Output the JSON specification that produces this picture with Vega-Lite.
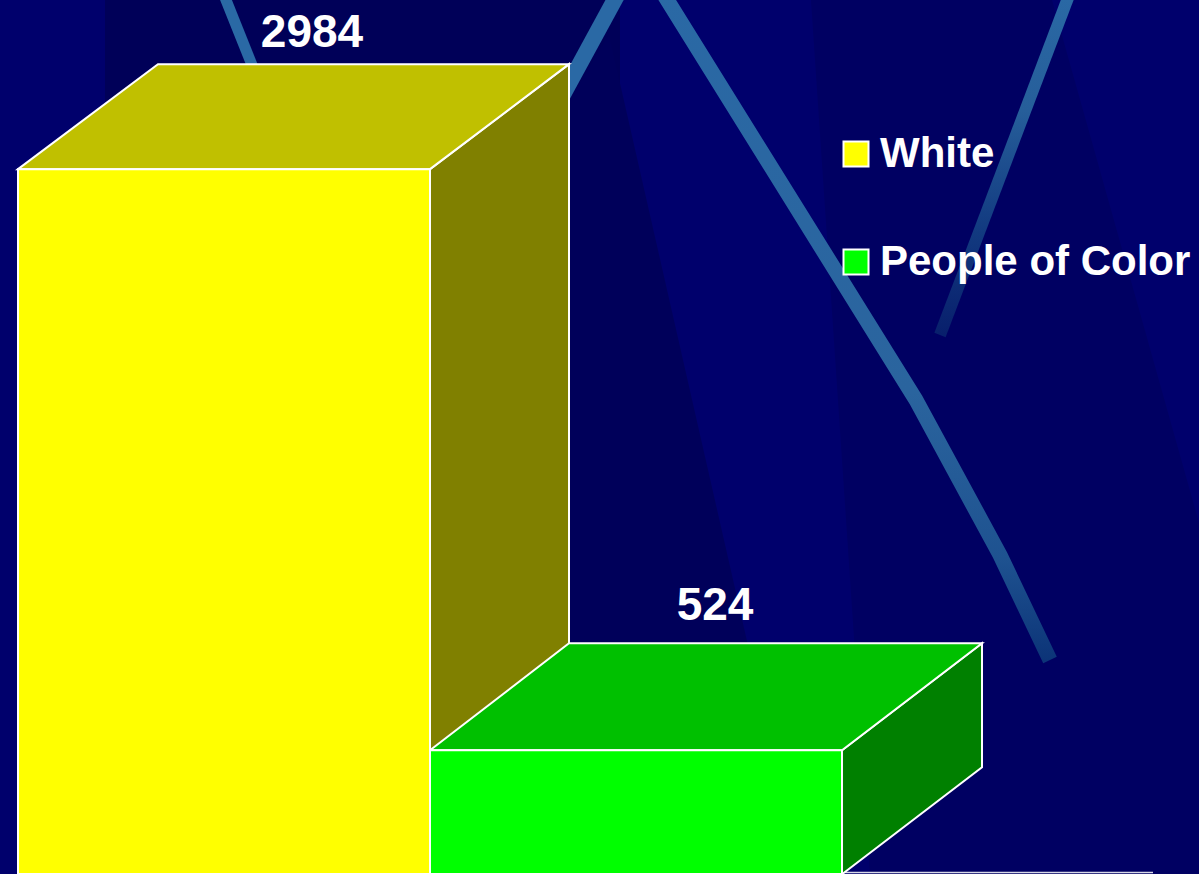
{
"$schema":"https://vega.github.io/schema/vega-lite/v6.json",
"width":1199,"height":874,"padding":0,"autosize":{"type":"none"},
"background":"#00006c",
"view":{"stroke":null},
"datasets":{
"bars":[{"group":"White","count":2984},{"group":"People of Color","count":524}],
"wedges":[
{"wedge":"a","px":105,"top":0,"bot":120},{"wedge":"a","px":620,"top":0,"bot":120},
{"wedge":"b","px":569,"top":100,"bot":874},{"wedge":"b","px":609,"top":35,"bot":874},{"wedge":"b","px":800,"top":874,"bot":874},
{"wedge":"c","px":811,"top":0,"bot":0},{"wedge":"c","px":870,"top":0,"bot":874},{"wedge":"c","px":1052,"top":0,"bot":874},{"wedge":"c","px":1199,"top":523,"bot":874}
],
"stripeA":[{"px":222,"py":-10},{"px":258,"py":80}],
"stripeB":[{"px":620,"py":-10},{"px":552,"py":115}],
"stripeC":[{"px":661,"py":-10},{"px":916,"py":400},{"px":1000,"py":555},{"px":1050,"py":660}],
"stripeD":[{"px":1071,"py":-10},{"px":940,"py":335}],
"floor":[{"px":842,"py":872.5},{"px":1153,"py":872.5}]
},
"resolve":{"scale":{"x":"independent","y":"independent","fill":"independent","shape":"independent","color":"independent"}},
"layer":[
{"data":{"name":"wedges"},"mark":{"type":"area","orient":"vertical"},
 "encoding":{"x":{"field":"px","type":"quantitative","axis":null,"scale":{"domain":[0,1199],"nice":false,"zero":false}},
 "y":{"field":"top","type":"quantitative","axis":null,"scale":{"domain":[0,874],"reverse":true,"nice":false}},
 "y2":{"field":"bot"},
 "fill":{"field":"wedge","type":"nominal","legend":null,"scale":{"domain":["a","b","c"],"range":["#000058","#00005a","#000062"]}},
 "detail":{"field":"wedge"}}},
{"data":{"name":"stripeA"},"mark":{"type":"line","strokeWidth":11,"stroke":"#2a69a5","strokeCap":"butt"},
 "encoding":{"x":{"field":"px","type":"quantitative","axis":null,"scale":{"domain":[0,1199],"nice":false,"zero":false}},
 "y":{"field":"py","type":"quantitative","axis":null,"scale":{"domain":[0,874],"reverse":true,"nice":false}}}},
{"data":{"name":"stripeB"},"mark":{"type":"line","strokeWidth":16,"stroke":"#2a69a5","strokeCap":"butt"},
 "encoding":{"x":{"field":"px","type":"quantitative","axis":null,"scale":{"domain":[0,1199],"nice":false,"zero":false}},
 "y":{"field":"py","type":"quantitative","axis":null,"scale":{"domain":[0,874],"reverse":true,"nice":false}}}},
{"data":{"name":"stripeC"},"mark":{"type":"line","strokeWidth":15,"strokeCap":"butt","strokeJoin":"round","stroke":{"gradient":"linear","x1":0,"y1":0,"x2":0,"y2":1,"stops":[{"offset":0,"color":"#2a69a5"},{"offset":0.6,"color":"#2a649e"},{"offset":0.85,"color":"#1e5290"},{"offset":1,"color":"#0c3478"}]}},
 "encoding":{"x":{"field":"px","type":"quantitative","axis":null,"scale":{"domain":[0,1199],"nice":false,"zero":false}},
 "y":{"field":"py","type":"quantitative","axis":null,"scale":{"domain":[0,874],"reverse":true,"nice":false}}}},
{"data":{"name":"stripeD"},"mark":{"type":"line","strokeWidth":12,"strokeCap":"butt","stroke":{"gradient":"linear","x1":0,"y1":0,"x2":0,"y2":1,"stops":[{"offset":0,"color":"#2a69a5"},{"offset":0.35,"color":"#265e9a"},{"offset":0.7,"color":"#123a80"},{"offset":1,"color":"#081f6c"}]}},
 "encoding":{"x":{"field":"px","type":"quantitative","axis":null,"scale":{"domain":[0,1199],"nice":false,"zero":false}},
 "y":{"field":"py","type":"quantitative","axis":null,"scale":{"domain":[0,874],"reverse":true,"nice":false}}}},
{"data":{"name":"floor"},"mark":{"type":"line","strokeWidth":1.5,"stroke":"#d8d8e8"},
 "encoding":{"x":{"field":"px","type":"quantitative","axis":null,"scale":{"domain":[0,1199],"nice":false,"zero":false}},
 "y":{"field":"py","type":"quantitative","axis":null,"scale":{"domain":[0,874],"reverse":true,"nice":false}}}},
{"data":{"name":"bars"},"mark":{"type":"point","filled":true,"size":4,"stroke":"white","strokeWidth":2,"opacity":1},
 "encoding":{"x":{"field":"group","type":"nominal","axis":null,"sort":null,"scale":{"domain":["White","People of Color"],"range":[18,842],"paddingInner":0,"paddingOuter":0}},
 "y":{"field":"count","type":"quantitative","axis":null,"scale":{"domain":[0,3700],"nice":false}},
 "fill":{"field":"group","type":"nominal","legend":null,"scale":{"domain":["White","People of Color"],"range":["#808000","#008000"]}},
 "shape":{"field":"group","type":"nominal","legend":null,"scale":{"domain":["White","People of Color"],"range":["M206,0L345,-105L345,600L206,705Z","M206,0L346,-107L346,17L206,124Z"]}}}},
{"data":{"name":"bars"},"mark":{"type":"point","filled":true,"size":4,"stroke":"white","strokeWidth":2,"opacity":1},
 "encoding":{"x":{"field":"group","type":"nominal","axis":null,"sort":null,"scale":{"domain":["White","People of Color"],"range":[18,842],"paddingInner":0,"paddingOuter":0}},
 "y":{"field":"count","type":"quantitative","axis":null,"scale":{"domain":[0,3700],"nice":false}},
 "fill":{"field":"group","type":"nominal","legend":null,"scale":{"domain":["White","People of Color"],"range":["#c0c000","#00c000"]}},
 "shape":{"field":"group","type":"nominal","legend":null,"scale":{"domain":["White","People of Color"],"range":["M-206,0L-66,-105L345,-105L206,0Z","M-206,0L-67,-107L346,-107L206,0Z"]}}}},
{"data":{"name":"bars"},"mark":{"type":"bar","stroke":"white","strokeWidth":2},
 "encoding":{"x":{"field":"group","type":"nominal","axis":null,"sort":null,"scale":{"domain":["White","People of Color"],"range":[18,842],"paddingInner":0,"paddingOuter":0}},
 "y":{"field":"count","type":"quantitative","axis":null,"scale":{"domain":[0,3700],"nice":false}},
 "fill":{"field":"group","type":"nominal","sort":null,"scale":{"domain":["White","People of Color"],"range":["#ffff00","#00ff00"]},
  "legend":{"title":null,"orient":"none","legendX":835,"legendY":133,"symbolType":"square","symbolSize":625,"symbolStrokeColor":"white","symbolStrokeWidth":2,"symbolOpacity":1,"labelFont":"Liberation Sans","labelFontWeight":"bold","labelFontSize":42,"labelColor":"white","labelLimit":400,"labelOffset":3,"rowPadding":66}}}},
{"data":{"name":"bars"},"transform":[{"filter":"datum.group==='White'"}],"mark":{"type":"text","font":"Liberation Sans","fontWeight":"bold","fontSize":46,"color":"white","dx":88,"dy":-122,"baseline":"alphabetic","align":"center"},
 "encoding":{"x":{"field":"group","type":"nominal","axis":null,"sort":null,"scale":{"domain":["White","People of Color"],"range":[18,842],"paddingInner":0,"paddingOuter":0}},
 "y":{"field":"count","type":"quantitative","axis":null,"scale":{"domain":[0,3700],"nice":false}},
 "text":{"field":"count","type":"quantitative","format":"d"}}},
{"data":{"name":"bars"},"transform":[{"filter":"datum.group==='People of Color'"}],"mark":{"type":"text","font":"Liberation Sans","fontWeight":"bold","fontSize":46,"color":"white","dx":79,"dy":-130,"baseline":"alphabetic","align":"center"},
 "encoding":{"x":{"field":"group","type":"nominal","axis":null,"sort":null,"scale":{"domain":["White","People of Color"],"range":[18,842],"paddingInner":0,"paddingOuter":0}},
 "y":{"field":"count","type":"quantitative","axis":null,"scale":{"domain":[0,3700],"nice":false}},
 "text":{"field":"count","type":"quantitative","format":"d"}}}
]
}
